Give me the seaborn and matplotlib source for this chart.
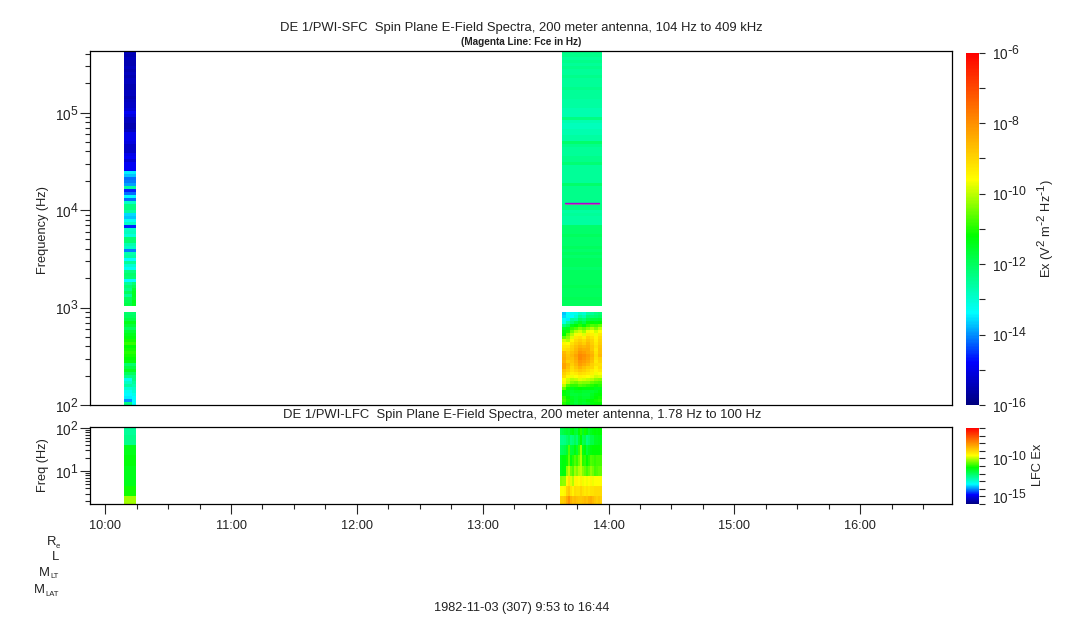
import numpy as np
import pandas as pd
import seaborn as sns
import matplotlib._mathtext as mathtext_internals
from matplotlib import pyplot as plt
from matplotlib.colors import LinearSegmentedColormap
from matplotlib.ticker import FixedLocator, NullFormatter

# Time range of the plot in hours, and where the two passes sit on it
t_start = 9 + 53 / 60
t_end = 16 + 44 / 60
hour_ticks = [10, 11, 12, 13, 14, 15, 16]
hour_labels = ['10:00', '11:00', '12:00', '13:00', '14:00', '15:00', '16:00']
pass1_hours = [10.15, 10.245]
pass2_hours = [13.64, 13.958]
pass2_lfc_hours = [13.62, 13.958]

sfc_fmin, sfc_fmax = 100, 430000
lfc_fmin, lfc_fmax = 1.71, 105.5
fce_hz = 11800
fce_hours = [13.652, 13.922]

# log10 of Ex, top row to bottom row. First pass, SFC receiver (above the gap)
pass1_sfc_high = [
    -15.4, -15.5, -15.4, -15.5, -15.5, -15.4, -15.5, -15.4, -15.5, -15.4,
    -15.4, -15.5, -15.5, -15.4, -15.4, -15.5, -15.4, -15.3, -15.3, -15.2,
    -14.9, -15.1, -15.4, -15.4, -15.5, -15.5, -15.4, -15.0, -15.0, -15.0,
    -15.1, -15.3, -15.3, -15.3, -15.0, -14.9, -15.2, -14.9, -14.9, -14.9,
    -13.5, -13.7, -14.2, -14.1, -13.9, -12.6, -14.6, -14.2, -13.4, -14.2,
    -12.9, -12.3, -12.3, -12.6, -13.6, -13.7, -13.3, -12.9, -14.6, -12.9,
    -12.8, -13.1, -12.2, -12.2, -12.7, -12.9, -14.1, -12.7, -12.6, -13.4,
    -12.5, -13.0, -13.3, -12.3, -12.1, -12.2, -13.4, -12.5, -12.2, -12.4,
    -12.0, -12.5, -12.0, -11.9, -11.8]
# below the gap
pass1_sfc_low = [
    -12.1, -12.0, -11.8, -11.4, -11.7, -12.0, -11.6, -11.4, -11.3, -11.1,
    -10.9, -11.2, -11.1, -11.0, -11.1, -11.2, -11.3, -12.1, -11.8, -11.5,
    -12.0, -12.4, -13.2, -12.9, -12.6, -13.0, -13.3, -13.4, -13.5, -14.0, -12.3]
# The last two columns of the first pass differ in a few bands
pass1_right_high = [-12.2, -11.9, -11.6, -11.5, -11.5, -11.6, -11.4, -11.5]
pass1_right_low = [-12.3, -12.3, -12.5, -12.7, -12.9, -13.0, -13.2, -13.4, -13.4, -13.4]

# Second pass, SFC receiver above the gap
pass2_sfc_high = [
    -12.4, -12.4, -12.5, -12.4, -12.5, -12.4, -12.5, -12.5, -12.4, -12.5,
    -12.5, -12.5, -12.4, -12.5, -12.5, -12.5, -12.6, -12.6, -12.6, -12.7,
    -12.7, -12.7, -12.3, -12.7, -12.8, -12.8, -12.7, -12.7, -12.6, -12.6,
    -12.1, -12.4, -12.5, -12.5, -12.5, -12.4, -12.4, -12.2, -12.5, -12.5,
    -12.5, -12.5, -12.5, -12.5, -12.1, -12.4, -12.4, -12.4, -12.4, -12.4,
    -12.4, -12.3, -12.3, -12.6, -12.5, -12.6, -12.6, -12.6, -12.1, -12.1,
    -12.1, -12.0, -12.1, -12.1, -12.1, -12.0, -12.1, -12.0, -12.1, -12.0,
    -12.0, -12.0, -12.1, -12.0, -12.0, -12.0, -12.0, -12.0, -11.9, -12.0,
    -12.0, -12.0, -11.9, -12.0, -12.0]

# Second pass, below the gap: 31 rows across 10 time columns
pass2_sfc_low = [
    [-13.7, -13.4, -13.3, -13.2, -12.9, -13.0, -12.6, -12.5, -12.3, -12.2],
    [-13.6, -13.3, -13.4, -13.0, -12.5, -12.7, -12.2, -12.2, -12.1, -12.0],
    [-13.3, -13.5, -12.5, -12.6, -12.0, -12.2, -11.8, -11.7, -11.7, -11.6],
    [-13.2, -12.6, -12.2, -11.8, -11.5, -11.8, -11.3, -11.2, -11.3, -11.2],
    [-12.3, -12.0, -11.4, -11.2, -11.0, -11.3, -10.9, -10.7, -10.8, -10.6],
    [-11.6, -11.5, -10.9, -10.7, -10.4, -10.6, -10.3, -10.1, -10.4, -10.0],
    [-11.3, -11.1, -10.5, -10.1, -9.9, -10.2, -9.7, -9.6, -9.9, -9.6],
    [-11.2, -10.6, -10.1, -9.7, -9.5, -9.8, -9.3, -9.4, -9.7, -9.3],
    [-10.6, -10.3, -9.8, -9.3, -9.2, -9.4, -9.0, -9.2, -9.5, -9.1],
    [-9.9, -10.1, -9.5, -9.1, -8.9, -9.1, -8.8, -9.0, -9.4, -9.0],
    [-9.5, -9.6, -9.2, -8.9, -8.7, -8.9, -8.6, -8.9, -9.3, -8.9],
    [-9.3, -9.3, -9.0, -8.7, -8.5, -8.6, -8.5, -8.8, -9.2, -8.8],
    [-9.2, -9.1, -8.9, -8.6, -8.3, -8.4, -8.4, -8.8, -9.3, -8.7],
    [-8.6, -8.9, -8.7, -8.5, -8.1, -8.2, -8.4, -8.6, -9.2, -8.7],
    [-8.5, -8.8, -8.6, -8.3, -7.9, -8.0, -8.2, -8.5, -9.1, -8.6],
    [-8.4, -8.7, -8.7, -8.4, -7.9, -8.1, -8.3, -8.6, -9.2, -8.9],
    [-8.5, -8.9, -8.8, -8.5, -8.1, -8.2, -8.4, -8.7, -9.3, -9.0],
    [-8.3, -8.6, -8.9, -8.6, -8.2, -8.4, -8.6, -8.9, -9.2, -9.2],
    [-8.3, -8.7, -9.1, -8.8, -8.5, -8.7, -8.9, -9.0, -9.4, -9.1],
    [-8.7, -8.9, -9.2, -9.0, -8.8, -8.9, -9.1, -9.3, -9.5, -9.3],
    [-8.9, -9.2, -9.4, -9.3, -9.1, -9.2, -9.3, -9.4, -9.7, -9.6],
    [-9.1, -9.5, -9.7, -9.6, -9.4, -9.5, -9.6, -9.7, -9.9, -9.8],
    [-9.6, -9.9, -10.1, -10.0, -9.8, -9.9, -10.0, -10.1, -10.3, -10.4],
    [-9.5, -10.0, -10.4, -10.5, -10.3, -10.4, -10.4, -10.6, -10.7, -10.8],
    [-10.0, -10.7, -10.9, -10.9, -10.7, -10.8, -10.9, -11.0, -11.1, -11.0],
    [-10.6, -11.1, -11.4, -11.3, -11.2, -11.3, -11.3, -11.3, -11.4, -11.4],
    [-11.2, -11.4, -11.6, -11.5, -11.5, -11.6, -11.6, -11.6, -11.5, -11.3],
    [-11.3, -11.4, -11.7, -11.7, -11.6, -11.7, -11.7, -11.5, -11.3, -11.2],
    [-10.9, -11.2, -11.5, -11.6, -11.5, -11.6, -11.6, -11.4, -11.2, -11.1],
    [-10.8, -11.1, -11.4, -11.6, -11.4, -11.5, -11.3, -11.2, -11.1, -11.0],
    [-11.0, -11.3, -11.5, -11.7, -11.5, -11.6, -11.5, -11.3, -11.2, -11.2]]

# LFC receiver, 8 frequency bands, top to bottom
pass1_lfc = [-12.5, -12.4, -11.4, -11.3, -11.4, -11.4, -11.1, -10.2]
pass2_lfc = [
    [-11.9, -11.8, -11.7, -11.6, -11.7, -11.4, -11.3, -11.6, -11.7, -11.2, -11.0, -11.5, -11.1, -11.3, -11.6, -11.4, -11.3, -11.2, -11.3, -11.2, -11.2],
    [-12.4, -12.4, -12.3, -12.1, -11.9, -12.3, -12.2, -11.9, -12.2, -11.6, -11.2, -11.9, -11.8, -12.3, -12.1, -11.8, -11.8, -11.5, -11.5, -11.4, -11.4],
    [-12.0, -11.9, -11.8, -11.6, -10.7, -11.7, -11.6, -11.3, -11.6, -10.9, -10.2, -11.4, -11.2, -11.7, -11.4, -11.3, -11.2, -11.2, -11.2, -11.2, -11.1],
    [-11.4, -11.3, -11.3, -11.1, -10.6, -11.3, -11.0, -10.7, -10.9, -10.5, -10.1, -11.0, -10.9, -11.2, -11.0, -10.7, -10.8, -10.9, -10.8, -10.8, -10.8],
    [-11.4, -11.3, -11.3, -10.3, -10.0, -10.5, -10.7, -10.2, -10.4, -10.1, -10.0, -10.4, -10.6, -10.8, -10.6, -10.3, -10.5, -10.8, -10.7, -10.6, -10.6],
    [-10.4, -10.3, -10.3, -9.5, -9.2, -9.8, -10.1, -9.5, -9.5, -9.6, -9.4, -9.7, -9.6, -9.7, -9.6, -9.5, -9.7, -9.6, -9.6, -9.6, -9.6],
    [-9.6, -9.6, -9.5, -9.0, -8.8, -9.2, -9.4, -9.1, -9.2, -9.2, -9.0, -9.2, -9.3, -9.2, -9.3, -9.2, -9.2, -9.1, -9.1, -9.1, -9.1],
    [-8.9, -8.9, -8.8, -8.4, -8.0, -8.5, -8.7, -8.6, -8.7, -8.8, -8.8, -8.7, -8.6, -8.7, -8.5, -8.4, -8.6, -8.8, -8.9, -8.8, -8.9]]
lfc_band_rows = [4, 5, 5, 5, 5, 5, 5, 4]

# Colour scale stops (position, colour)
cmap_stops = [(0.0, '#00007f'), (0.12, '#0000ff'), (0.26, '#00ffff'), (0.48, '#00ff00'),
              (0.64, '#ffff00'), (0.80, '#ff9000'), (1.0, '#ff0000')]
spectra_cmap = LinearSegmentedColormap.from_list('spectra', cmap_stops)
vmin, vmax = -16, -6

sns.set_theme(style='ticks')
plt.rcParams['font.family'] = ['Liberation Sans', 'DejaVu Sans']
plt.rcParams['mathtext.default'] = 'regular'
# The original's exponents are nearly as tall as the digits
mathtext_internals.SHRINK_FACTOR = 0.9

W, H = 1083, 620
fig = plt.figure(figsize=(W / 100, H / 100), dpi=100)
fig.patch.set_facecolor('white')


def px_axes(left, top, right, bottom):
    return fig.add_axes([left / W, 1 - bottom / H, (right - left) / W, (bottom - top) / H])


ax_sfc = px_axes(90.5, 51, 952.5, 405)
ax_lfc = px_axes(90.5, 427, 952.5, 504)
cax_sfc = px_axes(966, 52.5, 979, 405)
cax_lfc = px_axes(966, 428, 979, 504)

n_cols = 431
n_sfc_rows = 118
n_lfc_rows = sum(lfc_band_rows)


def hour_to_col(hour):
    return (hour - t_start) / (t_end - t_start) * n_cols


def freq_to_row(freq, fmin, fmax, n_rows):
    return (np.log10(fmax) - np.log10(freq)) / (np.log10(fmax) - np.log10(fmin)) * n_rows


def power_label(d):
    return '$10^{\\text{-}%d}$' % -d if d < 0 else '$10^{%d}$' % d


# SFC grid: the two blank rows are the gap between the receiver bands
gap = [np.nan, np.nan]
sfc = np.full((n_sfc_rows, n_cols), np.nan)
c0, c1 = [int(round(hour_to_col(h))) for h in pass1_hours]
sfc[:, c0:c1] = np.array(pass1_sfc_high + gap + pass1_sfc_low)[:, None]
sfc[77:85, c1 - 2:c1] = np.array(pass1_right_high)[:, None]
sfc[108:118, c1 - 2:c1] = np.array(pass1_right_low)[:, None]
c0, c1 = [int(round(hour_to_col(h))) for h in pass2_hours]
sfc[:85, c0:c1] = np.array(pass2_sfc_high)[:, None]
sfc[87:, c0:c1] = np.repeat(np.array(pass2_sfc_low), 2, axis=1)[:, :c1 - c0]

lfc = np.full((n_lfc_rows, n_cols), np.nan)
c0, c1 = [int(round(hour_to_col(h))) for h in pass1_hours]
lfc[:, c0:c1] = np.repeat(pass1_lfc, lfc_band_rows)[:, None]
c0, c1 = [int(round(hour_to_col(h))) for h in pass2_lfc_hours]
lfc[:, c0:c1] = np.repeat(np.array(pass2_lfc), lfc_band_rows, axis=0)[:, :c1 - c0]

sns.heatmap(pd.DataFrame(sfc), ax=ax_sfc, cmap=spectra_cmap, vmin=vmin, vmax=vmax, cbar_ax=cax_sfc,
            xticklabels=False, yticklabels=False)
sns.heatmap(pd.DataFrame(lfc), ax=ax_lfc, cmap=spectra_cmap, vmin=vmin, vmax=vmax, cbar_ax=cax_lfc,
            xticklabels=False, yticklabels=False)

# Magenta electron gyrofrequency line
fce_row = freq_to_row(fce_hz, sfc_fmin, sfc_fmax, n_sfc_rows)
ax_sfc.plot([hour_to_col(h) for h in fce_hours], [fce_row + 0.35, fce_row + 0.35], color='#8a8a9a', lw=0.8)
ax_sfc.plot([hour_to_col(h) for h in fce_hours], [fce_row, fce_row], color='#b000d0', lw=1.0)


def log_ticks(ax, decades, fmin, fmax, n_rows):
    major = [10 ** d for d in decades]
    minor = [m * 10 ** d for d in range(min(decades) - 1, max(decades) + 1) for m in range(2, 10)]
    minor = [f for f in minor if fmin <= f <= fmax]
    ax.yaxis.set_major_locator(FixedLocator([freq_to_row(f, fmin, fmax, n_rows) for f in major]))
    ax.yaxis.set_minor_locator(FixedLocator([freq_to_row(f, fmin, fmax, n_rows) for f in minor]))
    ax.set_yticklabels([power_label(d) for d in decades], rotation=0, fontsize=9.8, color='#222222')
    ax.tick_params(axis='y', which='major', length=7.2, width=0.8, pad=1.5, left=True)
    ax.tick_params(axis='y', which='minor', length=3.6, width=0.8, left=True)


log_ticks(ax_sfc, [2, 3, 4, 5], sfc_fmin, sfc_fmax, n_sfc_rows)
log_ticks(ax_lfc, [1, 2], lfc_fmin, lfc_fmax, n_lfc_rows)

ax_sfc.tick_params(axis='x', which='both', bottom=False)
ax_lfc.xaxis.set_major_locator(FixedLocator([hour_to_col(h) for h in hour_ticks]))
ax_lfc.set_xticklabels(hour_labels, fontsize=9.2, color='#222222')
quarter_hours = [h / 4 for h in range(40, 67) if h % 4 != 0]
ax_lfc.xaxis.set_minor_locator(FixedLocator([hour_to_col(h) for h in quarter_hours]))
ax_lfc.xaxis.set_minor_formatter(NullFormatter())
ax_lfc.tick_params(axis='x', which='major', length=7.2, width=0.8, pad=4.5, bottom=True)
ax_lfc.tick_params(axis='x', which='minor', length=3.6, width=0.8, bottom=True)

for ax in [ax_sfc, ax_lfc]:
    for spine in ax.spines.values():
        spine.set_visible(True)
        spine.set_linewidth(0.9)
        spine.set_color('black')

# Colour bars
cbar_sfc = ax_sfc.collections[0].colorbar
cbar_sfc.set_ticks(list(range(-16, -5, 1)))
cbar_sfc.set_ticklabels([power_label(d) if d % 2 == 0 else '' for d in range(-16, -5, 1)])
cbar_lfc = ax_lfc.collections[0].colorbar
cbar_lfc.set_ticks(list(range(-16, -5, 1)))
cbar_lfc.set_ticklabels([power_label(d) if d % 5 == 0 else '' for d in range(-16, -5, 1)])
for cbar in [cbar_sfc, cbar_lfc]:
    cbar.outline.set_visible(False)
    cbar.ax.tick_params(axis='y', length=4.2, width=0.8, pad=5, labelsize=9.8, labelcolor='#222222', right=True)


def px_text(x, y, s, **kwargs):
    kwargs.setdefault('ha', 'center')
    kwargs.setdefault('va', 'center')
    kwargs.setdefault('color', '#222222')
    fig.text(x / W, 1 - y / H, s, **kwargs)


px_text(521, 28, 'DE 1/PWI-SFC  Spin Plane E-Field Spectra, 200 meter antenna, 104 Hz to 409 kHz', fontsize=9.4)
px_text(521, 42, '(Magenta Line: Fce in Hz)', fontsize=7.2, fontweight='bold')
px_text(522, 415, 'DE 1/PWI-LFC  Spin Plane E-Field Spectra, 200 meter antenna, 1.78 Hz to 100 Hz', fontsize=9.4)
px_text(522, 608, '1982-11-03 (307) 9:53 to 16:44', fontsize=9.2)
px_text(43, 230, 'Frequency (Hz)', fontsize=9.2, rotation=90)
px_text(43, 465, 'Freq (Hz)', fontsize=9.2, rotation=90)
px_text(1045, 229, 'Ex ($V^2$ $m^{\\text{-}2}$ $Hz^{\\text{-}1}$)', fontsize=9.2, rotation=90)
px_text(1038, 465, 'LFC Ex', fontsize=9.2, rotation=90)

# Orbit labels under the time axis, with small subscripts
px_text(56, 542, 'R', fontsize=9.4, ha='right')
px_text(56, 547, 'e', fontsize=5.5, ha='left')
px_text(59, 557, 'L', fontsize=9.4, ha='right')
px_text(50, 573, 'M', fontsize=9.4, ha='right')
px_text(50, 577, 'LT', fontsize=5.5, ha='left')
px_text(45, 590, 'M', fontsize=9.4, ha='right')
px_text(45, 594, 'LAT', fontsize=5.5, ha='left')

fig.savefig('out.png', dpi=100, facecolor='white')
